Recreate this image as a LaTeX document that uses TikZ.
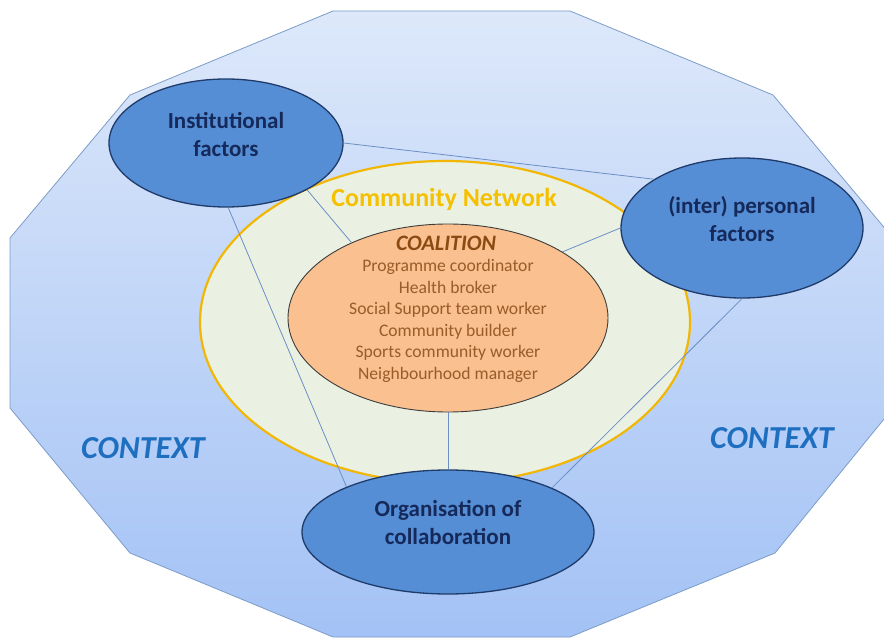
\documentclass[tikz,border=0pt]{standalone}
\usepackage{fontspec}
\setmainfont{Carlito}
\usetikzlibrary{shapes.geometric}
\definecolor{polytop}{HTML}{DDE8FA}
\definecolor{polybot}{HTML}{A3C2F5}
\definecolor{polyedge}{HTML}{7C9CC8}
\definecolor{bluefill}{HTML}{558ED5}
\definecolor{blueedge}{HTML}{1F3B6A}
\definecolor{navytext}{HTML}{15295A}
\definecolor{netfill}{HTML}{EBF1E2}
\definecolor{netedge}{HTML}{F2B705}
\definecolor{nettext}{HTML}{F5C000}
\definecolor{coalfill}{HTML}{FAC090}
\definecolor{coaledge}{HTML}{3C3C3C}
\definecolor{coaltitle}{HTML}{8A4A12}
\definecolor{coaltext}{HTML}{9A5C28}
\definecolor{ctxblue}{HTML}{1F6FC0}
\definecolor{linkcol}{HTML}{6B8EC4}
\begin{document}
\begin{tikzpicture}[x=1pt,y=-1pt,
  factor/.style={ellipse, inner sep=0pt, fill=bluefill, draw=blueedge, line width=1.3pt},
  factortext/.style={align=center, text=navytext, font=\fontsize{23}{28}\selectfont\bfseries},
  link/.style={draw=linkcol, line width=0.8pt},
  ctx/.style={text=ctxblue, font=\fontsize{32}{34}\selectfont\bfseries\itshape}]
\useasboundingbox (0,0) rectangle (884,639);
\clip (0,0) rectangle (884,639);
\fill[white] (0,0) rectangle (884,639);
\shade[top color=polytop, bottom color=polybot, draw=polyedge, line width=0.8pt]
  (333,11) -- (570,11) -- (773,95) -- (893,238) -- (893,408) -- (775,553) -- (570,637)
  -- (333,637) -- (130,553) -- (10,408) -- (10,238) -- (130,95) -- cycle;
% community network
\node[ellipse, inner sep=0pt, minimum width=490pt, minimum height=322pt, fill=netfill, draw=netedge, line width=2.2pt] (net) at (445,322) {};
\node[text=nettext, font=\fontsize{26}{28}\selectfont\bfseries] (netT) at (444,199) {Community Network};
% coalition
\node[ellipse, inner sep=0pt, minimum width=320pt, minimum height=188pt, fill=coalfill, draw=coaledge, line width=0.9pt] (coal) at (448,318) {};
\node[text=coaltitle, font=\fontsize{22}{24}\selectfont\bfseries\itshape] (coalT) at (446,243) {COALITION};
\node[align=center, text=coaltext, font=\fontsize{17.6}{21.5}\selectfont] (coalL) at (448,321)
  {Programme coordinator\\Health broker\\Social Support team worker\\Community builder\\Sports community worker\\Neighbourhood manager};
% factors
\node[factor, minimum width=234pt, minimum height=128pt] (inst) at (226,143) {};
\node[factortext] (instT) at (226,134) {Institutional\\factors};
\node[factor, minimum width=242pt, minimum height=140pt] (pers) at (742,228) {};
\node[factortext] (persT) at (742,219) {(inter) personal\\factors};
\node[factor, minimum width=292pt, minimum height=124pt] (org) at (448,532) {};
\node[factortext] (orgT) at (448,522) {Organisation of\\collaboration};
% links
\draw[link] (inst.0) -- (pers.151);
\draw[link] (inst.-30) -- (coal.142);
\draw[link] (inst.-88) -- (org.156);
\draw[link] (pers.180) -- (coal.30);
\draw[link] (pers.-90) -- (org.23);
\draw[link] (coal.south) -- (org.north);
% context labels
\node[ctx] (ctxL) at (143,448) {CONTEXT};
\node[ctx] (ctxR) at (772,438) {CONTEXT};
\end{tikzpicture}
\end{document}
